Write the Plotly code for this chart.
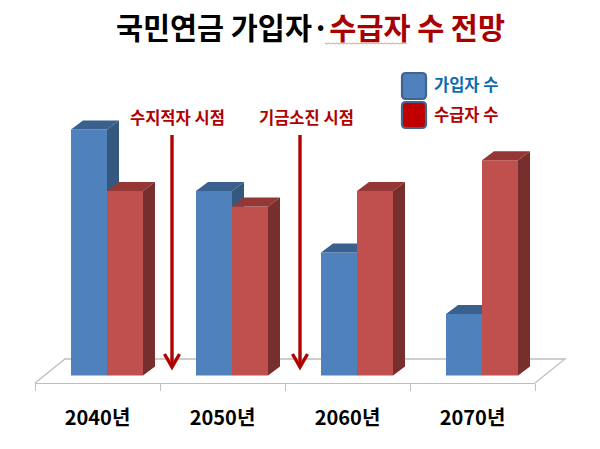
import plotly.graph_objects as go

WIDTH = 600
HEIGHT = 449

years = ["2040년", "2050년", "2060년", "2070년"]
subscribers = [4, 3, 2, 1]
recipients = [3, 2.75, 3, 3.5]
marker_names = ["수지적자 시점", "기금소진 시점"]

BLUE = "#4F81BD"
BLUE_TOP = "#3A608F"
BLUE_SIDE = "#35587F"
RED = "#C0504D"
RED_TOP = "#953735"
RED_SIDE = "#772F2D"
DARK_RED = "#B00000"
GRAY = "#BEBEBE"
FONT = "Noto Sans CJK KR"

# plot area in pixels: the front edge of the floor is the bottom of it
LEFT, RIGHT = 35, 535
FLOOR_FRONT = 383
ZERO_Y = 375.5
UNIT_PX = 61.5
UNIT_X = (RIGHT - LEFT) / len(years)

BAR_W = 36 / UNIT_X
DEPTH_X = 12 / UNIT_X
DEPTH_Y = 9 / UNIT_PX
BLUE_OFFSET = -26.5 / UNIT_X
RED_OFFSET = BLUE_OFFSET + BAR_W


# paper coordinates are relative to the plot area
def px(x):
    return (x - LEFT) / (RIGHT - LEFT)


def py(y):
    return (FLOOR_FRONT - y) / FLOOR_FRONT


def faces(values, offset, top_color, side_color, xaxis, yaxis):
    # top and side of each bar, pushed back by the depth of the 3D look
    out = []
    for i, v in enumerate(values):
        x0 = i + offset
        x1 = x0 + BAR_W
        polys = [
            ([x0, x1, x1 + DEPTH_X, x0 + DEPTH_X, x0], [v, v, v + DEPTH_Y, v + DEPTH_Y, v], top_color),
            ([x1, x1 + DEPTH_X, x1 + DEPTH_X, x1, x1], [0, DEPTH_Y, v + DEPTH_Y, v, 0], side_color),
        ]
        for xs, ys, color in polys:
            out.append(go.Scatter(
                x=xs, y=ys, mode="lines", fill="toself", fillcolor=color,
                line=dict(width=0), hoverinfo="skip", showlegend=False,
                xaxis=xaxis, yaxis=yaxis,
            ))
    return out


positions = list(range(len(years)))

fig = go.Figure()
fig.add_trace(go.Bar(x=positions, y=subscribers, width=BAR_W, offset=BLUE_OFFSET,
                     marker=dict(color=BLUE, line=dict(width=0)), name="가입자 수", showlegend=False))
fig.add_traces(faces(subscribers, BLUE_OFFSET, BLUE_TOP, BLUE_SIDE, "x", "y"))
# red series sits on an overlaid axis pair so it draws over the blue side faces
fig.add_trace(go.Bar(x=positions, y=recipients, width=BAR_W, offset=RED_OFFSET,
                     marker=dict(color=RED, line=dict(width=0)), name="수급자 수", showlegend=False,
                     xaxis="x2", yaxis="y2"))
fig.add_traces(faces(recipients, RED_OFFSET, RED_TOP, RED_SIDE, "x2", "y2"))

y_range = [(ZERO_Y - FLOOR_FRONT) / UNIT_PX, ZERO_Y / UNIT_PX]
x_range = [-0.5, len(years) - 0.5]

shapes = []
# floor of the 3D chart
shapes.append(dict(
    type="path", xref="paper", yref="paper", layer="below",
    path=f"M {px(35)} {py(383)} L {px(65)} {py(359)} L {px(565)} {py(359)} L {px(535)} {py(383)}",
    line=dict(color=GRAY, width=1.3),
))

# down arrows
for ax in [172, 300]:
    shapes.append(dict(type="line", xref="paper", yref="paper", x0=px(ax), x1=px(ax), y0=py(135), y1=py(366),
                       line=dict(color=DARK_RED, width=3.4)))
    shapes.append(dict(
        type="path", xref="paper", yref="paper",
        path=f"M {px(ax - 7.5)} {py(354)} L {px(ax)} {py(367)} L {px(ax + 7.5)} {py(354)}",
        line=dict(color=DARK_RED, width=3.4),
    ))


def rounded(x0, y0, x1, y1, r):
    return (f"M {px(x0 + r)} {py(y0)} L {px(x1 - r)} {py(y0)} Q {px(x1)} {py(y0)} {px(x1)} {py(y0 + r)} "
            f"L {px(x1)} {py(y1 - r)} Q {px(x1)} {py(y1)} {px(x1 - r)} {py(y1)} "
            f"L {px(x0 + r)} {py(y1)} Q {px(x0)} {py(y1)} {px(x0)} {py(y1 - r)} "
            f"L {px(x0)} {py(y0 + r)} Q {px(x0)} {py(y0)} {px(x0 + r)} {py(y0)} Z")


# legend swatches
for top, color in [(73, BLUE), (102, "#C00000")]:
    shapes.append(dict(
        type="path", xref="paper", yref="paper", path=rounded(402, top, 426, top + 26, 4),
        fillcolor=color, line=dict(color="#41648F", width=2.2),
    ))

# spell-check squiggle under the title
zig = f"M {px(325)} {py(43)}"
for k in range(1, 42):
    zig += f" L {px(325 + k * 2)} {py(43 + (k % 2))}"
shapes.append(dict(type="path", xref="paper", yref="paper", path=zig,
                   line=dict(color="#D08080", width=0.8)))


def label(x, y, text, size, color, xanchor="center"):
    return dict(x=px(x), y=py(y), xref="paper", yref="paper", text=text, showarrow=False,
                xanchor=xanchor, yanchor="middle", font=dict(family=FONT, size=size, color=color))


annotations = [
    label(310, 26, "<b>국민연금 가입자·<span style='color:#A80000'>수급자 수 전망</span></b>", 29.4, "#000000"),
    label(177.5, 117, f"<b>{marker_names[0]}</b>", 16.5, DARK_RED),
    label(306.5, 117, f"<b>{marker_names[1]}</b>", 16.5, DARK_RED),
    label(432, 84, "<b>가입자 수</b>", 16.5, "#0B6CB0", "left"),
    label(432, 114, "<b>수급자 수</b>", 16.5, DARK_RED, "left"),
]

fig.update_layout(
    width=WIDTH,
    height=HEIGHT,
    margin=dict(l=LEFT, r=WIDTH - RIGHT, t=0, b=HEIGHT - FLOOR_FRONT, pad=0),
    paper_bgcolor="white",
    plot_bgcolor="rgba(0,0,0,0)",
    barmode="overlay",
    showlegend=False,
    shapes=shapes,
    annotations=annotations,
    xaxis=dict(
        range=x_range, tickvals=positions, ticktext=years, showgrid=False, zeroline=False,
        showline=True, linecolor=GRAY, linewidth=1.3, ticks="", ticklabelstandoff=17,
        tickfont=dict(family=FONT, size=20, color="#000000", weight="bold"),
        minor=dict(tickvals=[i - 0.5 for i in range(len(years) + 1)], ticks="outside",
                   ticklen=7, tickcolor=GRAY, tickwidth=1.3, showgrid=False),
    ),
    yaxis=dict(range=y_range, visible=False),
    xaxis2=dict(range=x_range, overlaying="x", visible=False),
    yaxis2=dict(range=y_range, overlaying="y", visible=False),
)

fig.write_html("out.html", config={"displayModeBar": False},
               post_script="document.body.style.margin = '0';")
